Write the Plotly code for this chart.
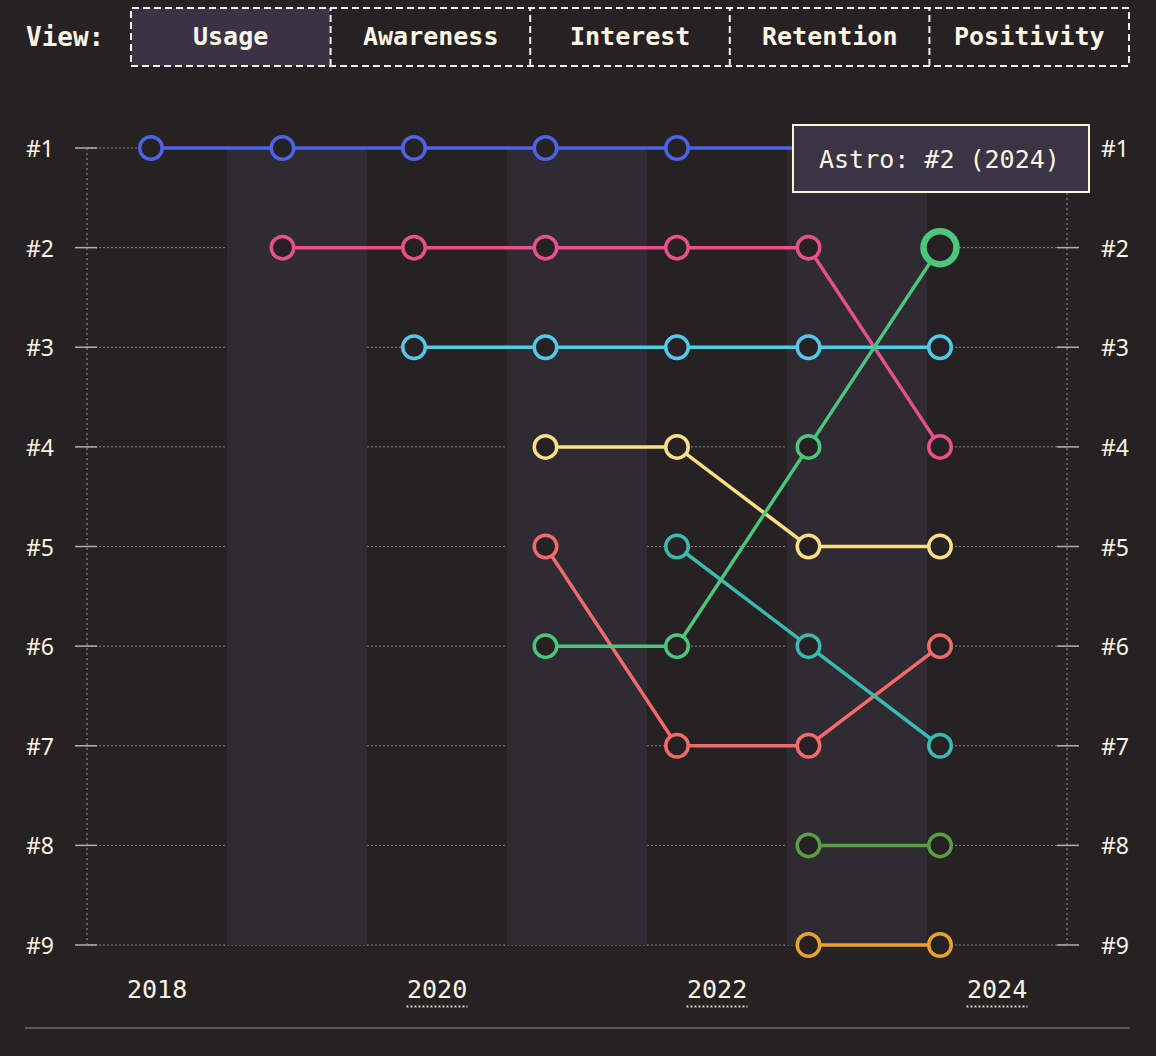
import plotly.graph_objects as go

# ---------------- data ----------------
years = [2018, 2019, 2020, 2021, 2022, 2023, 2024]
ranks = [1, 2, 3, 4, 5, 6, 7, 8, 9]
rank_labels = ["#1", "#2", "#3", "#4", "#5", "#6", "#7", "#8", "#9"]
year_tick_vals = [2018, 2020, 2022, 2024]
year_tick_text = ["2018", "2020", "2022", "2024"]
underlined_years = [2020, 2022, 2024]
banded_years = [2019, 2021, 2023]

view_buttons = ["Usage", "Awareness", "Interest", "Retention", "Positivity"]
selected_view = "Usage"

nextjs_years = [2018, 2019, 2020, 2021, 2022, 2023, 2024]
nextjs_ranks = [1, 1, 1, 1, 1, 1, 1]
gatsby_years = [2019, 2020, 2021, 2022, 2023, 2024]
gatsby_ranks = [2, 2, 2, 2, 2, 4]
nuxt_years = [2020, 2021, 2022, 2023, 2024]
nuxt_ranks = [3, 3, 3, 3, 3]
sveltekit_years = [2021, 2022, 2023, 2024]
sveltekit_ranks = [4, 4, 5, 5]
eleventy_years = [2021, 2022, 2023, 2024]
eleventy_ranks = [5, 7, 7, 6]
astro_years = [2021, 2022, 2023, 2024]
astro_ranks = [6, 6, 4, 2]
remix_years = [2022, 2023, 2024]
remix_ranks = [5, 6, 7]
docusaurus_years = [2023, 2024]
docusaurus_ranks = [8, 8]
qwik_years = [2023, 2024]
qwik_ranks = [9, 9]

series = [
    ("Next.js", nextjs_years, nextjs_ranks, "#4d63e6"),
    ("Gatsby", gatsby_years, gatsby_ranks, "#e8508a"),
    ("Nuxt", nuxt_years, nuxt_ranks, "#55c9ea"),
    ("SvelteKit", sveltekit_years, sveltekit_ranks, "#fbdf86"),
    ("Eleventy", eleventy_years, eleventy_ranks, "#f26a6a"),
    ("Remix", remix_years, remix_ranks, "#3abab1"),
    ("Docusaurus", docusaurus_years, docusaurus_ranks, "#5aa043"),
    ("Qwik", qwik_years, qwik_ranks, "#eaa22c"),
    ("Astro", astro_years, astro_ranks, "#4cc67d"),
]
highlight_name = "Astro"
highlight_year = 2024

# ---------------- style ----------------
BG = "#262223"
BAND = "#2e2b32"
CREAM = "#fdf5e4"
GRID = "#8c8787"
FONT_MONO = "DejaVu Sans Mono"
FONT_SANS = "Noto Sans"

W, H = 1156, 1056
# chart frame (pixels) where rank 1 / rank 9 and first / last year bands sit
PL, PR = 87, 1067
RANK1_PX, RANK9_PX = 148, 945
# plot area slightly taller than the rank span so lines at #1 / #9 are not clipped
PT, PB = 118, 975
PPR = (RANK9_PX - RANK1_PX) / (ranks[-1] - ranks[0])
Y_TOP = ranks[0] - (RANK1_PX - PT) / PPR
Y_BOT = ranks[-1] + (PB - RANK9_PX) / PPR


def px_x(p):
    return (p - PL) / (PR - PL)


def px_y(p):
    return (PB - p) / (PB - PT)


fig = go.Figure()

for name, xs, ys, color in series:
    is_hl = [(name == highlight_name and x == highlight_year) for x in xs]
    sizes = [33 if h else 22.5 for h in is_hl]
    widths = [6.5 if h else 3.5 for h in is_hl]
    fig.add_trace(go.Scatter(
        x=xs, y=ys, name=name, mode="lines+markers",
        xaxis="x2", yaxis="y",
        line=dict(color=color, width=3.5),
        marker=dict(size=sizes, color=BG, opacity=1, line=dict(color=color, width=widths)),
        cliponaxis=False, showlegend=False, hoverinfo="skip",
    ))

shapes = []
# alternating year bands
for yr in banded_years:
    shapes.append(dict(type="rect", xref="x", yref="y", x0=yr - 0.5, x1=yr + 0.5,
                       y0=ranks[0], y1=ranks[-1], fillcolor=BAND, line=dict(width=0), layer="below"))
# horizontal grid lines + tick marks
for r in ranks:
    shapes.append(dict(type="line", xref="paper", yref="y", x0=0, x1=1, y0=r, y1=r,
                       line=dict(color=GRID, width=1, dash="2px,2px"), layer="below"))
    shapes.append(dict(type="line", xref="paper", yref="y", x0=px_x(75), x1=px_x(97), y0=r, y1=r,
                       line=dict(color="#b5afaa", width=1.5), layer="below"))
    shapes.append(dict(type="line", xref="paper", yref="y", x0=px_x(1057), x1=px_x(1079), y0=r, y1=r,
                       line=dict(color="#b5afaa", width=1.5), layer="below"))
# vertical borders
for xv in (0, 1):
    shapes.append(dict(type="line", xref="paper", yref="y", x0=xv, x1=xv, y0=ranks[0], y1=ranks[-1],
                       line=dict(color=GRID, width=1.2, dash="2px,3px"), layer="below"))
# bottom rule
shapes.append(dict(type="line", xref="paper", yref="paper", x0=px_x(25), x1=px_x(1130),
                   y0=px_y(1028), y1=px_y(1028), line=dict(color="#5b5759", width=2)))
# dotted underlines under year labels
for yr in underlined_years:
    shapes.append(dict(type="line", xref="x", yref="paper", x0=yr - 30.5 / 140, x1=yr + 30.5 / 140,
                       y0=px_y(1006.5), y1=px_y(1006.5),
                       line=dict(color="#d9d2c5", width=2, dash="2px,2px")))

# view buttons
btn_left, btn_right, btn_top, btn_bot = 131, 1129, 8, 66
btn_w = (btn_right - btn_left) / len(view_buttons)
annotations = []
for i, label in enumerate(view_buttons):
    x0 = btn_left + i * btn_w
    x1 = x0 + btn_w
    if label == selected_view:
        shapes.append(dict(type="rect", xref="paper", yref="paper", x0=px_x(x0), x1=px_x(x1),
                           y0=px_y(btn_bot), y1=px_y(btn_top), fillcolor="#393345",
                           line=dict(width=0)))
    annotations.append(dict(text="<b>" + label + "</b>", xref="paper", yref="paper",
                            x=px_x((x0 + x1) / 2), y=px_y(37), xanchor="center", yanchor="middle",
                            showarrow=False, font=dict(family=FONT_MONO, size=25, color=CREAM)))
shapes.append(dict(type="rect", xref="paper", yref="paper", x0=px_x(btn_left), x1=px_x(btn_right),
                   y0=px_y(btn_bot), y1=px_y(btn_top), fillcolor="rgba(0,0,0,0)",
                   line=dict(color="#f4efe6", width=2, dash="7px,4px")))
for i in range(1, len(view_buttons)):
    xd = btn_left + i * btn_w
    shapes.append(dict(type="line", xref="paper", yref="paper", x0=px_x(xd), x1=px_x(xd),
                       y0=px_y(btn_bot), y1=px_y(btn_top),
                       line=dict(color="#f4efe6", width=2, dash="7px,4px")))
annotations.append(dict(text="<b>View:</b>", xref="paper", yref="paper", x=px_x(24), y=px_y(37),
                        xanchor="left", yanchor="middle", showarrow=False,
                        font=dict(family=FONT_MONO, size=26, color=CREAM)))

# rank labels, both sides
for r, lab in zip(ranks, rank_labels):
    for xl in (24, 1099):
        annotations.append(dict(text=lab, xref="paper", yref="y", x=px_x(xl), y=r,
                                xanchor="left", yanchor="middle", showarrow=False,
                                font=dict(family=FONT_SANS, size=23, color=CREAM)))
# year labels
for yv, yt in zip(year_tick_vals, year_tick_text):
    annotations.append(dict(text=yt, xref="x", yref="paper", x=yv, y=px_y(989),
                            xanchor="center", yanchor="middle", showarrow=False,
                            font=dict(family=FONT_MONO, size=25, color=CREAM)))

# tooltip for highlighted point
hl = [s for s in series if s[0] == highlight_name][0]
hl_rank = hl[2][hl[1].index(highlight_year)]
shapes.append(dict(type="rect", xref="paper", yref="paper", x0=px_x(793), x1=px_x(1089),
                   y0=px_y(192), y1=px_y(125), fillcolor="#3a3445",
                   line=dict(color="#fdf3dc", width=2), layer="above"))
annotations.append(dict(text=f"{highlight_name}: #{hl_rank} ({highlight_year})", xref="paper", yref="paper",
                        x=px_x(817), y=px_y(159), xanchor="left", yanchor="middle", showarrow=False,
                        font=dict(family=FONT_MONO, size=25, color=CREAM)))

fig.update_layout(
    width=W, height=H, autosize=False,
    margin=dict(l=PL, r=W - PR, t=PT, b=H - PB, pad=0),
    paper_bgcolor=BG, plot_bgcolor=BG,
    xaxis=dict(range=[2017.5, 2024.5], visible=False, fixedrange=True),
    xaxis2=dict(range=[2018 - 64 / 131.5, 2024 + 127 / 131.5], overlaying="x", anchor="y",
                visible=False, fixedrange=True),
    yaxis=dict(range=[Y_BOT, Y_TOP], visible=False, fixedrange=True),
    shapes=shapes, annotations=annotations,
    showlegend=False,
)

fig.write_html("out.html", post_script="document.body.style.margin='0';",
               config={"displayModeBar": False})
